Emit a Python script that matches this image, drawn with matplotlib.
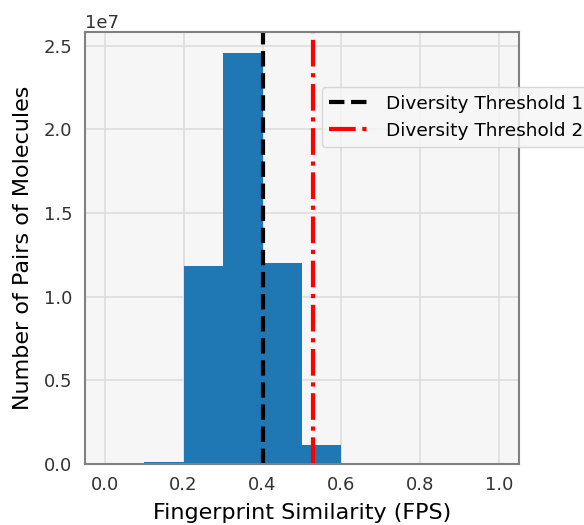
import numpy as np
import matplotlib
matplotlib.use("Agg")
import matplotlib.pyplot as plt

# histogram of pairwise fingerprint similarity
bin_edges = [0.0, 0.1, 0.2, 0.3, 0.4, 0.5, 0.6, 0.7, 0.8, 0.9, 1.0]
pair_counts = [2.0e4, 1.0e5, 1.181e7, 2.458e7, 1.202e7, 1.14e6, 8.0e4, 5.0e3, 1.0e3, 0.0]
threshold_1 = 0.40
threshold_2 = 0.528

fig = plt.figure(figsize=(5.84, 5.25), dpi=100)
ax = fig.add_axes([0.1455, 0.1162, 0.7432, 0.8228])
ax.set_facecolor("#f6f6f6")
ax.grid(True, color="#dddddd", linewidth=1.2)
ax.set_axisbelow(True)
for s in ax.spines.values():
    s.set_color("#808080")
    s.set_linewidth(1.5)

ax.hist(bin_edges[:-1], bins=bin_edges, weights=pair_counts, color="#1f77b4")
ax.axvline(threshold_1, color="black", linestyle="--", linewidth=3, label="Diversity Threshold 1")
ax.axvline(threshold_2, color="red", linestyle="-.", linewidth=3, label="Diversity Threshold 2")

ax.set_xticks([0.0, 0.2, 0.4, 0.6, 0.8, 1.0])
ax.tick_params(labelsize=13, colors="#333333", length=0, pad=9)
ax.yaxis.get_offset_text().set_fontsize(13)
ax.yaxis.get_offset_text().set_color("#333333")
ax.set_xlabel("Fingerprint Similarity (FPS)", fontsize=16, labelpad=6)
ax.set_ylabel("Number of Pairs of Molecules", fontsize=16, labelpad=8)

ax.legend(loc="upper left", bbox_to_anchor=(0.551, 0.834), bbox_transform=fig.transFigure,
          borderaxespad=0, fontsize=13.3, facecolor="#f6f6f6", edgecolor="#d0d0d0",
          handlelength=2.3)

fig.savefig("out.png", dpi=100)
